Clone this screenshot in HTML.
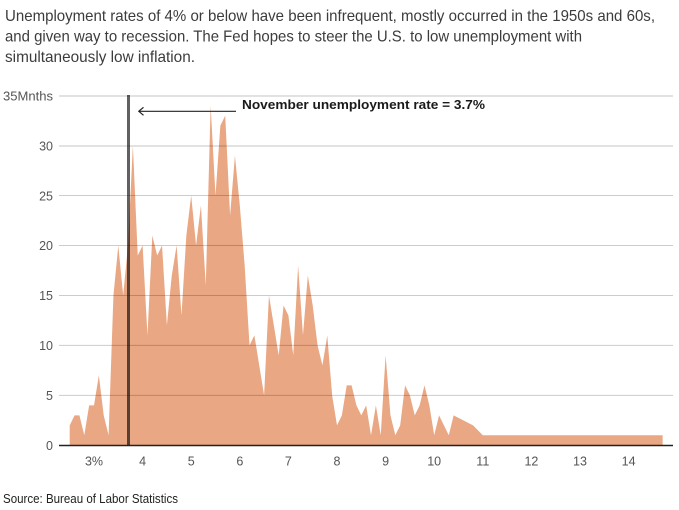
<!DOCTYPE html>
<html>
<head>
<meta charset="utf-8">
<style>
  html, body { margin: 0; padding: 0; background: #ffffff; }
  body { width: 679px; height: 510px; overflow: hidden; }
  svg { display: block; }
  text { font-family: "Liberation Sans", sans-serif; }
</style>
</head>
<body>
<svg width="679" height="510" viewBox="0 0 679 510" xmlns="http://www.w3.org/2000/svg">
  <rect x="0" y="0" width="679" height="510" fill="#ffffff"/>

  <!-- Title -->
  <g fill="#3c3c3c" font-size="16">
    <text x="5" y="21" textLength="650" lengthAdjust="spacingAndGlyphs">Unemployment rates of 4% or below have been infrequent, mostly occurred in the 1950s and 60s,</text>
    <text x="5" y="41.5" textLength="577" lengthAdjust="spacingAndGlyphs">and given way to recession. The Fed hopes to steer the U.S. to low unemployment with</text>
    <text x="5" y="62" textLength="190" lengthAdjust="spacingAndGlyphs">simultaneously low inflation.</text>
  </g>

  <!-- Area series (data coords: x = rate, y = months) -->
  <path transform="matrix(48.6 0 0 -9.99 -51.8 445.3)" fill="#e9a783" stroke="none"
    d="M2.5 0 L2.5 2 L2.6 3 L2.7 3 L2.8 1 L2.9 4 L3.0 4 L3.1 7 L3.2 3 L3.3 1 L3.4 15 L3.5 20 L3.6 15 L3.7 20 L3.8 30 L3.9 19 L4.0 20 L4.1 11 L4.2 21 L4.3 19 L4.4 20 L4.5 12 L4.6 17 L4.7 20 L4.8 13 L4.9 21 L5.0 25 L5.1 20 L5.2 24 L5.3 16 L5.4 34 L5.5 25 L5.6 32 L5.7 33 L5.8 23 L5.9 29 L6.0 24 L6.1 18 L6.2 10 L6.3 11 L6.4 8 L6.5 5 L6.6 15 L6.7 12 L6.8 9 L6.9 14 L7.0 13 L7.1 9 L7.2 18 L7.3 11 L7.4 17 L7.5 14 L7.6 10 L7.7 8 L7.8 11 L7.9 5 L8.0 2 L8.1 3 L8.2 6 L8.3 6 L8.4 4 L8.5 3 L8.6 4 L8.7 1 L8.8 4 L8.9 1 L9.0 9 L9.1 3 L9.2 1 L9.3 2 L9.4 6 L9.5 5 L9.6 3 L9.7 4 L9.8 6 L9.9 4 L10.0 1 L10.1 3 L10.2 2 L10.3 1 L10.4 3 L10.8 2 L11.0 1 L14.7 1 L14.7 0 Z"/>

  <!-- Gridlines -->
  <g stroke="rgba(0,0,0,0.2)" stroke-width="1">
    <line x1="59" y1="395.35" x2="673" y2="395.35"/>
    <line x1="59" y1="345.4" x2="673" y2="345.4"/>
    <line x1="59" y1="295.45" x2="673" y2="295.45"/>
    <line x1="59" y1="245.5" x2="673" y2="245.5"/>
    <line x1="59" y1="195.55" x2="673" y2="195.55"/>
    <line x1="59" y1="146" x2="673" y2="146" stroke="rgba(0,0,0,0.15)" stroke-width="1.5"/>
    <line x1="59" y1="96" x2="673" y2="96" stroke="rgba(0,0,0,0.15)" stroke-width="1.5"/>
  </g>

  <!-- Baseline -->
  <line x1="59" y1="445.5" x2="673" y2="445.5" stroke="#222" stroke-width="1.5"/>

  <!-- Vertical marker at 3.7 -->
  <line x1="128.5" y1="95" x2="128.5" y2="445" stroke="rgba(0,0,0,0.62)" stroke-width="3"/>

  <!-- Annotation arrow -->
  <line x1="139" y1="111.3" x2="236" y2="111.3" stroke="#222" stroke-width="1.2"/>
  <polyline points="143.5,107.3 138.8,111.3 143.5,115.3" fill="none" stroke="#222" stroke-width="1.2"/>
  <text x="242" y="109" font-size="13" font-weight="bold" fill="#1a1a1a" textLength="243" lengthAdjust="spacingAndGlyphs">November unemployment rate = 3.7%</text>

  <!-- Y labels -->
  <g fill="#555" font-size="12.5" text-anchor="end">
    <text x="53" y="100.7" textLength="50" lengthAdjust="spacingAndGlyphs">35Mnths</text>
    <text x="53" y="150.5">30</text>
    <text x="53" y="200.3">25</text>
    <text x="53" y="250.2">20</text>
    <text x="53" y="300.2">15</text>
    <text x="53" y="350.1">10</text>
    <text x="53" y="400.1">5</text>
    <text x="53" y="450">0</text>
  </g>

  <!-- X labels -->
  <g fill="#555" font-size="12.5" text-anchor="middle">
    <text x="94" y="465.5">3%</text>
    <text x="142.6" y="465.5">4</text>
    <text x="191.2" y="465.5">5</text>
    <text x="239.8" y="465.5">6</text>
    <text x="288.4" y="465.5">7</text>
    <text x="337" y="465.5">8</text>
    <text x="385.6" y="465.5">9</text>
    <text x="434.2" y="465.5">10</text>
    <text x="482.8" y="465.5">11</text>
    <text x="531.4" y="465.5">12</text>
    <text x="580" y="465.5">13</text>
    <text x="628.6" y="465.5">14</text>
  </g>

  <!-- Source -->
  <text x="3" y="503" font-size="12.5" fill="#222" textLength="175" lengthAdjust="spacingAndGlyphs">Source: Bureau of Labor Statistics</text>
</svg>
</body>
</html>
